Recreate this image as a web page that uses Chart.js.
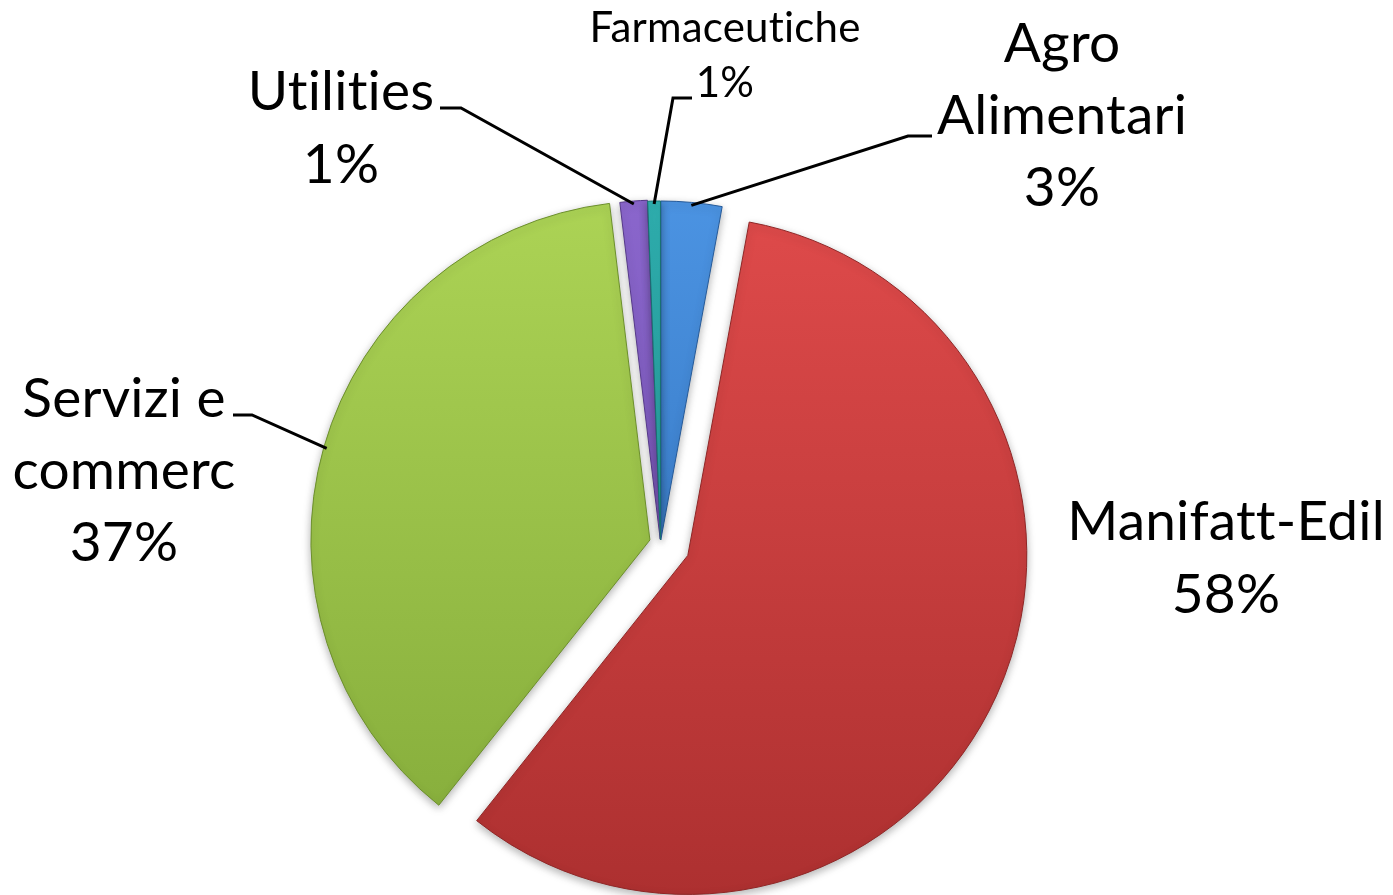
<!DOCTYPE html>
<html>
<head>
<meta charset="utf-8">
<script src="https://cdn.jsdelivr.net/npm/chart.js@4.4.1/dist/chart.umd.min.js"></script>
<style>
html,body{margin:0;padding:0;background:#ffffff;overflow:hidden}
#wrap{width:1393px;height:895px;position:relative}
canvas{display:block;font-variant-ligatures:none}
</style>
</head>
<body>
<div id="wrap"><canvas id="c" width="1393" height="895"></canvas></div>
<script>
// ---- data ----
const categories = ['Agro Alimentari', 'Manifatt-Edil', 'Servizi e commerc', 'Utilities', 'Farmaceutiche'];
const shares = [2.9, 57.8, 37.4, 1.3, 0.6];
const labelLines = [['Agro', 'Alimentari'], ['Manifatt-Edil'], ['Servizi e', 'commerc'], ['Utilities'], ['Farmaceutiche']];

// ---- styles / layout ----
const colorTop    = ['#4b93e2', '#de4a4a', '#acd355', '#8a66cc', '#2fb0b0'];
const colorBottom = ['#2c6ab2', '#ad3030', '#84ab3a', '#6a49a6', '#1e8a8a'];
const colorEdge   = ['#255a99', '#8f2626', '#6c8f2c', '#56398a', '#177070'];
const explode = [3, 30, 11, 4, 3];
const PIE_R = 339;
// label blocks: offsets from pie centre (px) of text centre x and middle baseline
const labelLayout = [
  {dx: 401.5, dy: -409, size: 55, lh: 72, leader: {tx: 271.5, ex: 247.5, y: -407}},
  {dx: 565.5, dy: 33.5, size: 55, lh: 73, leader: null},
  {dx: -536.5, dy: -54, size: 55, lh: 72, leader: {tx: -427.5, ex: -408.5, y: -128}},
  {dx: -319.5, dy: -396.5, size: 55, lh: 73, leader: {tx: -220.5, ex: -199.5, y: -435}},
  {dx: 64.5, dy: -473.5, size: 42, lh: 55, leader: {tx: 31.5, ex: 12.5, y: -445}}
];
const FONT = 'Lato, "Open Sans", sans-serif';

const total = shares.reduce((a, b) => a + b, 0);
const pctText = v => Math.round(v / total * 100) + '%';

const explodePlugin = {
  id: 'explode',
  beforeDatasetDraw(chart, args) {
    const c = chart.ctx;
    args.meta.data.forEach((arc, i) => {
      const mid = (arc.startAngle + arc.endAngle) / 2;
      const d = explode[i];
      c.save();
      c.shadowColor = 'rgba(0,0,0,0.30)';
      c.shadowBlur = 9;
      c.shadowOffsetX = 0;
      c.shadowOffsetY = 3;
      c.translate(Math.cos(mid) * d, Math.sin(mid) * d);
      arc.draw(c);
      c.restore();
    });
    return false;
  }
};

const labelPlugin = {
  id: 'pieLabels',
  afterDatasetsDraw(chart) {
    const c = chart.ctx;
    const meta = chart.getDatasetMeta(0);
    meta.data.forEach((arc, i) => {
      const L = labelLayout[i];
      const cx = arc.x, cy = arc.y;
      const lines = labelLines[i].concat([pctText(shares[i])]);
      c.save();
      c.fillStyle = '#000';
      c.font = L.size + 'px ' + FONT;
      if ('textRendering' in c) c.textRendering = 'optimizeSpeed';
      if ('letterSpacing' in c) c.letterSpacing = '0.2px';
      c.textAlign = 'center';
      c.textBaseline = 'alphabetic';
      const n = lines.length;
      lines.forEach((t, k) => {
        const y = cy + L.dy + (k - (n - 1) / 2) * L.lh;
        c.fillText(t, cx + L.dx, y);
      });
      if (L.leader) {
        const mid = (arc.startAngle + arc.endAngle) / 2;
        const r = arc.outerRadius + explode[i] - 3;
        const ax = cx + Math.cos(mid) * r;
        const ay = cy + Math.sin(mid) * r;
        c.strokeStyle = '#000';
        c.lineWidth = 3;
        c.lineJoin = 'miter';
        c.beginPath();
        c.moveTo(cx + L.leader.tx, cy + L.leader.y);
        c.lineTo(cx + L.leader.ex, cy + L.leader.y);
        c.lineTo(ax, ay);
        c.stroke();
      }
      c.restore();
    });
  }
};

new Chart(document.getElementById('c').getContext('2d'), {
  type: 'pie',
  data: {
    labels: categories,
    datasets: [{
      data: shares,
      backgroundColor: (ctx) => {
        const i = ctx.dataIndex;
        const a = ctx.chart.chartArea;
        if (!a || i === undefined) return colorTop[i || 0];
        const cy = (a.top + a.bottom) / 2;
        const g = ctx.chart.ctx.createLinearGradient(0, cy - PIE_R, 0, cy + PIE_R);
        g.addColorStop(0, colorTop[i]);
        g.addColorStop(1, colorBottom[i]);
        return g;
      },
      borderColor: colorEdge,
      borderWidth: 1
    }]
  },
  options: {
    responsive: false,
    animation: false,
    events: [],
    radius: PIE_R,
    layout: {padding: {left: 0, right: 72, top: 191, bottom: 0}},
    plugins: {legend: {display: false}, tooltip: {enabled: false}}
  },
  plugins: [explodePlugin, labelPlugin]
});
</script>
</body>
</html>
